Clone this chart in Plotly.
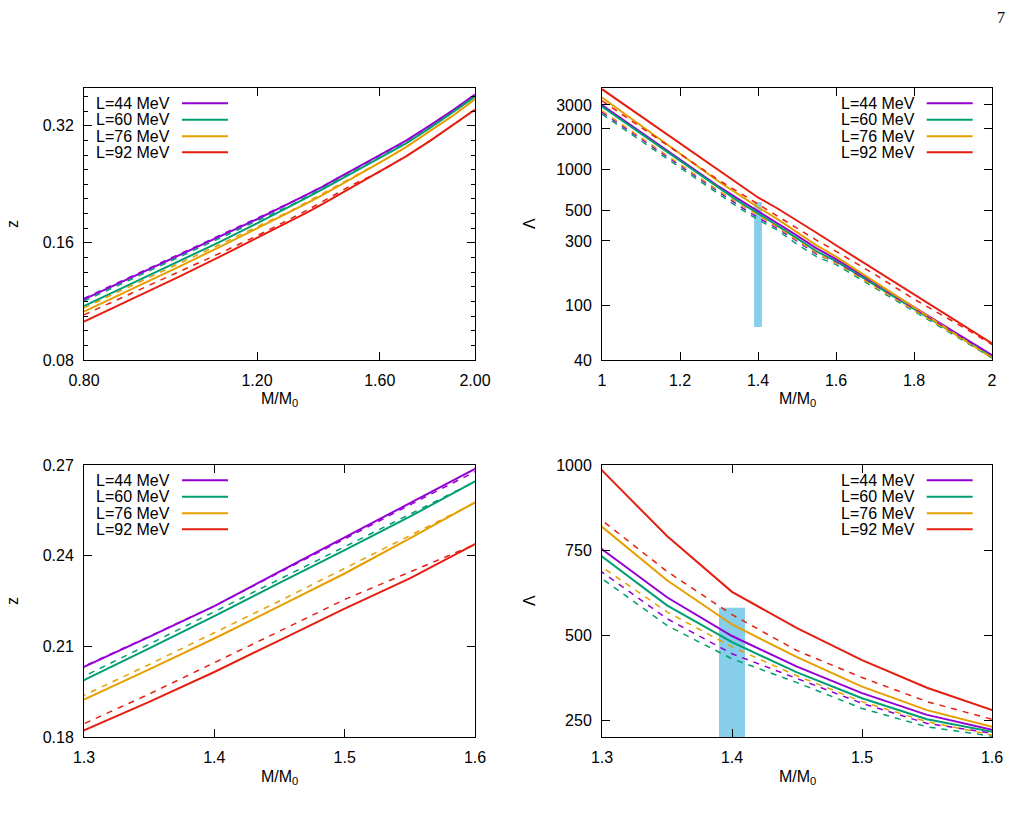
import math
import plotly.graph_objects as go

# ---------------- data ----------------
LABELS = ["L=44 MeV", "L=60 MeV", "L=76 MeV", "L=92 MeV"]

# redshift z vs M/M0
M_Z = [0.8, 0.9, 1.0, 1.1, 1.2, 1.3, 1.35, 1.4, 1.45, 1.5, 1.55, 1.6, 1.7, 1.8, 1.9, 2.0]
Z_L44 = [0.1146, 0.1315, 0.1487, 0.1660, 0.1840, 0.2032, 0.2131, 0.2233, 0.2347, 0.2460, 0.2573, 0.2687, 0.2925, 0.3205, 0.3510, 0.3850]
Z_L60 = [0.1100, 0.1265, 0.1435, 0.1610, 0.1795, 0.1988, 0.2093, 0.2200, 0.2310, 0.2418, 0.2529, 0.2643, 0.2880, 0.3160, 0.3465, 0.3800]
Z_L76 = [0.1065, 0.1225, 0.1390, 0.1563, 0.1742, 0.1924, 0.2024, 0.2126, 0.2233, 0.2341, 0.2457, 0.2573, 0.2815, 0.3095, 0.3400, 0.3740]
Z_L92 = [0.1004, 0.1155, 0.1310, 0.1475, 0.1645, 0.1822, 0.1916, 0.2015, 0.2120, 0.2225, 0.2325, 0.2435, 0.2665, 0.2925, 0.3212, 0.3520]
ZD_L44 = [0.1152, 0.1322, 0.1494, 0.1668, 0.1848, 0.2034, 0.2133, 0.2233, 0.2345, 0.2455, 0.2568, 0.2678, 0.2918, 0.3200, 0.3505, 0.3850]
ZD_L60 = [0.1133, 0.1300, 0.1472, 0.1645, 0.1825, 0.2001, 0.2107, 0.2214, 0.2322, 0.2429, 0.2537, 0.2645, 0.2882, 0.3162, 0.3467, 0.3805]
ZD_L76 = [0.1089, 0.1250, 0.1415, 0.1585, 0.1760, 0.1938, 0.2040, 0.2145, 0.2250, 0.2358, 0.2467, 0.2575, 0.2817, 0.3097, 0.3402, 0.3742]
ZD_L92 = [0.1045, 0.1195, 0.1345, 0.1505, 0.1668, 0.1844, 0.1942, 0.2045, 0.2150, 0.2255, 0.2345, 0.2437, 0.2667, 0.2927, 0.3214, 0.3522]

# tidal deformability Lambda vs M/M0
M_L = [1.0, 1.1, 1.2, 1.3, 1.35, 1.4, 1.45, 1.5, 1.55, 1.6, 1.7, 1.8, 1.9, 2.0]
L_L44 = [2990, 1888, 1192, 752, 611, 497, 407, 329, 265, 221, 147, 98, 65.3, 43.5]
L_L60 = [2920, 1840, 1160, 731, 587, 479, 390, 314, 252, 213, 142.3, 95, 63.5, 42.4]
L_L76 = [3400, 2116, 1317, 818, 661, 531, 435, 348, 279, 230, 150, 97.7, 63.7, 41.5]
L_L92 = [3920, 2473, 1560, 984, 791, 627, 520, 426, 345, 279, 184, 121, 80, 53]
LD_L44 = [2650, 1688, 1075, 685, 548, 445, 372, 299, 240, 210, 142, 95.3, 64, 43]
LD_L60 = [2570, 1638, 1044, 666, 528, 430, 360, 284, 230, 201, 135.5, 91.4, 61.6, 41.5]
LD_L76 = [2720, 1730, 1100, 700, 568, 465, 380, 304, 245, 206, 138, 93, 62.7, 42]
LD_L92 = [3220, 2055, 1311, 837, 687, 560, 454, 375, 304, 252, 170, 112, 77, 52]

# GW170817 constraint band
GW_M = [1.39, 1.41]
GW_LAMBDA = [70, 580]

# ---------------- style ----------------
COLORS = ["#9400D3", "#009E73", "#E69F00", "#E51E10"]
SKY = "#87CEEB"
FONT = "Liberation Sans"
FS = 16
W, H = 1013, 827

fig = go.Figure()

Z_SOLID = [Z_L44, Z_L60, Z_L76, Z_L92]
Z_DASH = [ZD_L44, ZD_L60, ZD_L76, ZD_L92]
L_SOLID = [L_L44, L_L60, L_L76, L_L92]
L_DASH = [LD_L44, LD_L60, LD_L76, LD_L92]

panels = [
    ("x", "y", M_Z, Z_SOLID, Z_DASH, False),
    ("x2", "y2", M_L, L_SOLID, L_DASH, True),
    ("x3", "y3", M_Z, Z_SOLID, Z_DASH, False),
    ("x4", "y4", M_L, L_SOLID, L_DASH, True),
]

for xa, ya, mx, solid, dash, band in panels:
    if band:
        fig.add_trace(go.Scatter(
            x=[GW_M[0], GW_M[1], GW_M[1], GW_M[0], GW_M[0]],
            y=[GW_LAMBDA[0], GW_LAMBDA[0], GW_LAMBDA[1], GW_LAMBDA[1], GW_LAMBDA[0]],
            mode="lines", fill="toself", fillcolor=SKY, line=dict(width=0, color=SKY),
            showlegend=False, hoverinfo="skip", xaxis=xa, yaxis=ya))
    for i in range(4):
        fig.add_trace(go.Scatter(x=mx, y=solid[i], mode="lines",
                                 line=dict(color=COLORS[i], width=2),
                                 name=LABELS[i], showlegend=False, xaxis=xa, yaxis=ya))
    for i in range(4):
        fig.add_trace(go.Scatter(x=mx, y=dash[i], mode="lines",
                                 line=dict(color=COLORS[i], width=1.5, dash="6px,6px"),
                                 name=LABELS[i] + " (dashed)", showlegend=False, xaxis=xa, yaxis=ya))


def px_x(p):
    return p / W


def px_y(p):
    return 1 - p / H


XL = [px_x(84), px_x(475)]
XR = [px_x(602), px_x(992)]
YT = [px_y(360), px_y(88)]
YB = [px_y(737), px_y(465)]

base = dict(showline=True, linecolor="black", linewidth=1, mirror="ticks",
            ticks="inside", ticklen=8, tickcolor="black", tickwidth=1,
            showgrid=False, zeroline=False, automargin=False,
            tickfont=dict(family=FONT, size=FS, color="black"),
            ticklabelstandoff=6)

minor_y1 = []
for b in [0.08, 0.16]:
    for k in range(1, 8):
        minor_y1.append(b * 2 ** (k / 8))
minor_y1 += [0.32 * 2 ** (1 / 8), 0.32 * 2 ** (2 / 8)]

fig.update_layout(
    template="none",
    width=W, height=H, autosize=False,
    margin=dict(l=0, r=0, t=0, b=0, pad=0, autoexpand=False),
    paper_bgcolor="white", plot_bgcolor="white",
    showlegend=False,
    font=dict(family=FONT, size=FS, color="black"),
    xaxis=dict(base, domain=XL, anchor="y", type="log",
               range=[math.log10(0.8), math.log10(2.0)],
               tickmode="array", tickvals=[0.8, 1.2, 1.6, 2.0],
               ticktext=["0.80", "1.20", "1.60", "2.00"]),
    yaxis=dict(base, domain=YT, anchor="x", type="log",
               range=[math.log10(0.08), math.log10(0.40)],
               tickmode="array", tickvals=[0.08, 0.16, 0.32],
               ticktext=["0.08", "0.16", "0.32"],
               minor=dict(tickmode="array", tickvals=minor_y1, ticks="inside",
                          ticklen=4, tickcolor="black", showgrid=False)),
    xaxis2=dict(base, domain=XR, anchor="y2", range=[1, 2],
                tickmode="array", tickvals=[1, 1.2, 1.4, 1.6, 1.8, 2],
                ticktext=["1", "1.2", "1.4", "1.6", "1.8", "2"]),
    yaxis2=dict(base, domain=YT, anchor="x2", type="log",
                range=[math.log10(40), math.log10(4000)],
                tickmode="array", tickvals=[40, 100, 300, 500, 1000, 2000, 3000],
                ticktext=["40", "100", "300", "500", "1000", "2000", "3000"]),
    xaxis3=dict(base, domain=XL, anchor="y3", range=[1.3, 1.6],
                tickmode="array", tickvals=[1.3, 1.4, 1.5, 1.6],
                ticktext=["1.3", "1.4", "1.5", "1.6"]),
    yaxis3=dict(base, domain=YB, anchor="x3", range=[0.18, 0.27],
                tickmode="array", tickvals=[0.18, 0.21, 0.24, 0.27],
                ticktext=["0.18", "0.21", "0.24", "0.27"]),
    xaxis4=dict(base, domain=XR, anchor="y4", range=[1.3, 1.6],
                tickmode="array", tickvals=[1.3, 1.4, 1.5, 1.6],
                ticktext=["1.3", "1.4", "1.5", "1.6"]),
    yaxis4=dict(base, domain=YB, anchor="x4", range=[200, 1000],
                tickmode="array", tickvals=[250, 500, 750, 1000],
                ticktext=["250", "500", "750", "1000"]),
)

annotations = []
shapes = []

# gnuplot-style keys (text right-justified, sample line to the right)
ROWS = [0.944, 0.883, 0.823, 0.764]
key_pos = {
    "": (0.2217, 0.2506, 0.3683),
    "2": (0.8051, 0.8326, 0.9505),
    "3": (0.2217, 0.2506, 0.3683),
    "4": (0.8051, 0.8326, 0.9505),
}
for suf, (tx, l0, l1) in key_pos.items():
    for i in range(4):
        annotations.append(dict(text=LABELS[i], xref=f"x{suf} domain", yref=f"y{suf} domain",
                                x=tx, y=ROWS[i], xanchor="right", yanchor="middle",
                                showarrow=False, borderpad=0,
                                font=dict(family=FONT, size=FS, color="black")))
        shapes.append(dict(type="line", xref=f"x{suf} domain", yref=f"y{suf} domain",
                           x0=l0, x1=l1, y0=ROWS[i], y1=ROWS[i],
                           line=dict(color=COLORS[i], width=2)))


def title(text, x, y, angle=0):
    annotations.append(dict(text=text, xref="paper", yref="paper", x=px_x(x), y=px_y(y),
                            xanchor="center", yanchor="middle", showarrow=False,
                            textangle=angle, font=dict(family=FONT, size=FS, color="black")))


MM0 = "M/M<sub>0</sub>"
title(MM0, 279.5, 399)
title(MM0, 797, 399)
title(MM0, 279.5, 777)
title(MM0, 797, 777)
title("z", 12, 224, -90)
title("Λ", 529, 224, -90)
title("z", 12, 601, -90)
title("Λ", 529, 601, -90)

# page number
annotations.append(dict(text="7", xref="paper", yref="paper", x=px_x(1001), y=px_y(17),
                        xanchor="center", yanchor="middle", showarrow=False,
                        font=dict(family="Liberation Serif", size=16, color="black")))

fig.update_layout(annotations=annotations, shapes=shapes)

fig.write_html("out.html")
